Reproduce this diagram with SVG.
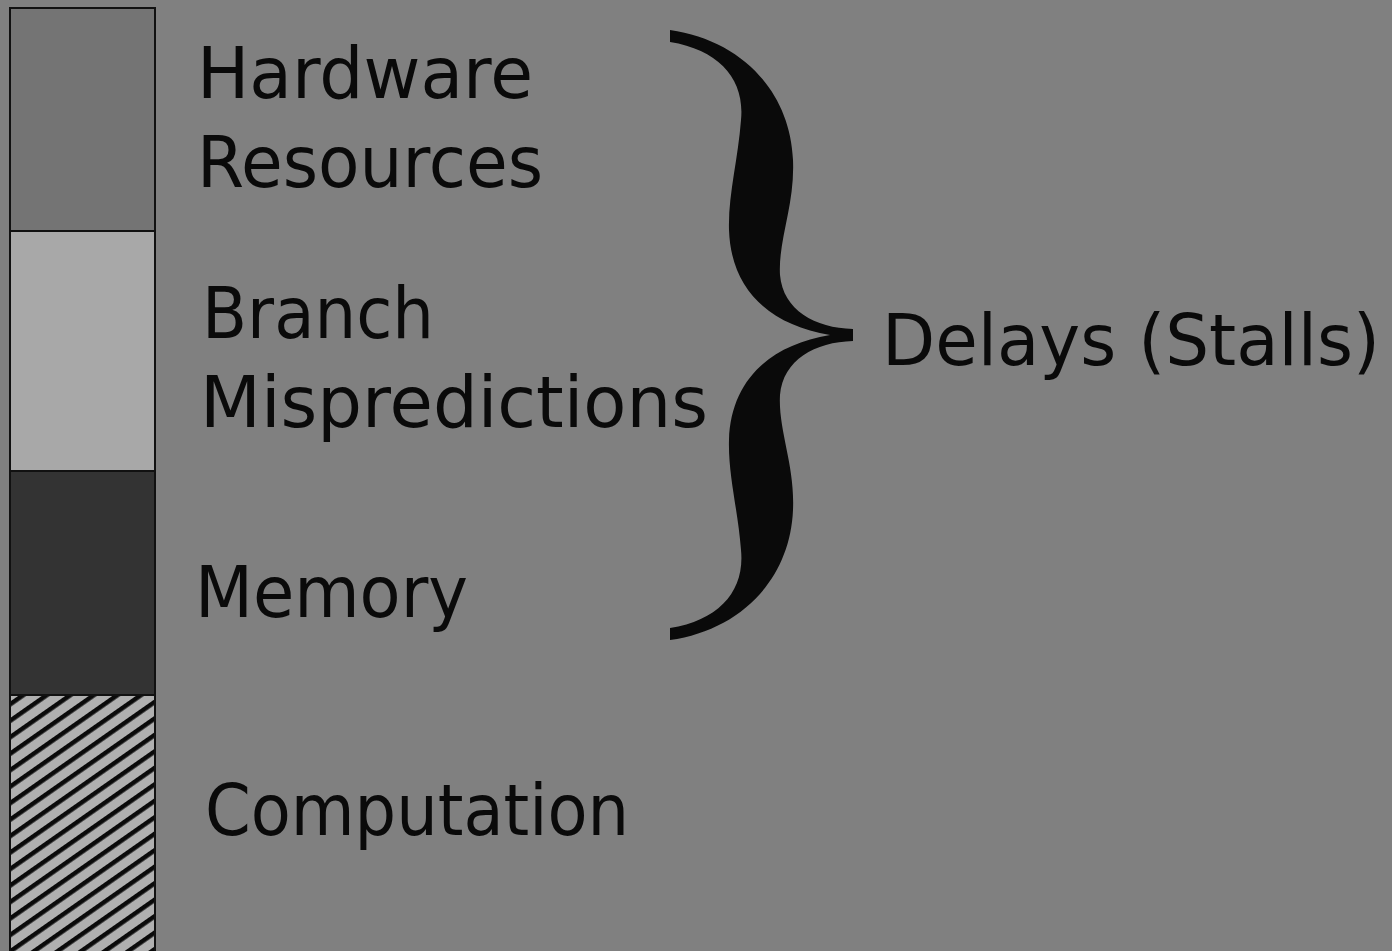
<svg xmlns="http://www.w3.org/2000/svg" width="1392" height="951" viewBox="0 0 1392 951">
<style>
.lbl{font-family:"Comic Sans MS","DejaVu Sans",sans-serif;font-size:72px;fill:#0a0a0a}
.seg{stroke:#111;stroke-width:2}
</style>
<defs>
<pattern id="hatch" patternUnits="userSpaceOnUse" width="13.5" height="13.5" patternTransform="rotate(-35)">
<rect width="13.5" height="13.5" fill="#b0b0b0"/>
<rect y="0" width="13.5" height="4.5" fill="#0a0a0a"/>
</pattern>
</defs>
<rect width="1392" height="951" fill="#808080"/>
<g id="bar">
<rect class="seg" x="10" y="8" width="145" height="223" fill="#747474"/>
<rect class="seg" x="10" y="231" width="145" height="240" fill="#a8a8a8"/>
<rect class="seg" x="10" y="471" width="145" height="224" fill="#333333"/>
<rect class="seg" x="10" y="695" width="145" height="270" fill="url(#hatch)"/>
</g>
<g id="labels">
<text class="lbl" x="197" y="98" textLength="336" lengthAdjust="spacingAndGlyphs">Hardware</text>
<text class="lbl" x="197" y="187" textLength="346" lengthAdjust="spacingAndGlyphs">Resources</text>
<text class="lbl" x="202" y="338" textLength="232" lengthAdjust="spacingAndGlyphs">Branch</text>
<text class="lbl" x="200" y="427" textLength="508" lengthAdjust="spacingAndGlyphs">Mispredictions</text>
<text class="lbl" x="195" y="617" textLength="273" lengthAdjust="spacingAndGlyphs">Memory</text>
<text class="lbl" x="205" y="835" textLength="424" lengthAdjust="spacingAndGlyphs">Computation</text>
</g>
<g id="brace">
<path fill="#0a0a0a" d="M670,30 C740,40 790,90 793,160 C795,205 778,240 780,275 C783,310 815,328 853,329 L853,341 C815,342 783,360 780,395 C778,430 795,465 793,510 C790,580 740,630 670,640 L670,628 C720,620 745,590 741,550 C738,510 728,475 729,440 C731,380 770,345 830,335 C770,325 731,290 729,230 C728,195 738,160 741,120 C745,80 720,50 670,42 Z"/>
</g>
<g id="delays">
<text class="lbl" x="882" y="365" textLength="498" lengthAdjust="spacingAndGlyphs">Delays (Stalls)</text>
</g>
</svg>
